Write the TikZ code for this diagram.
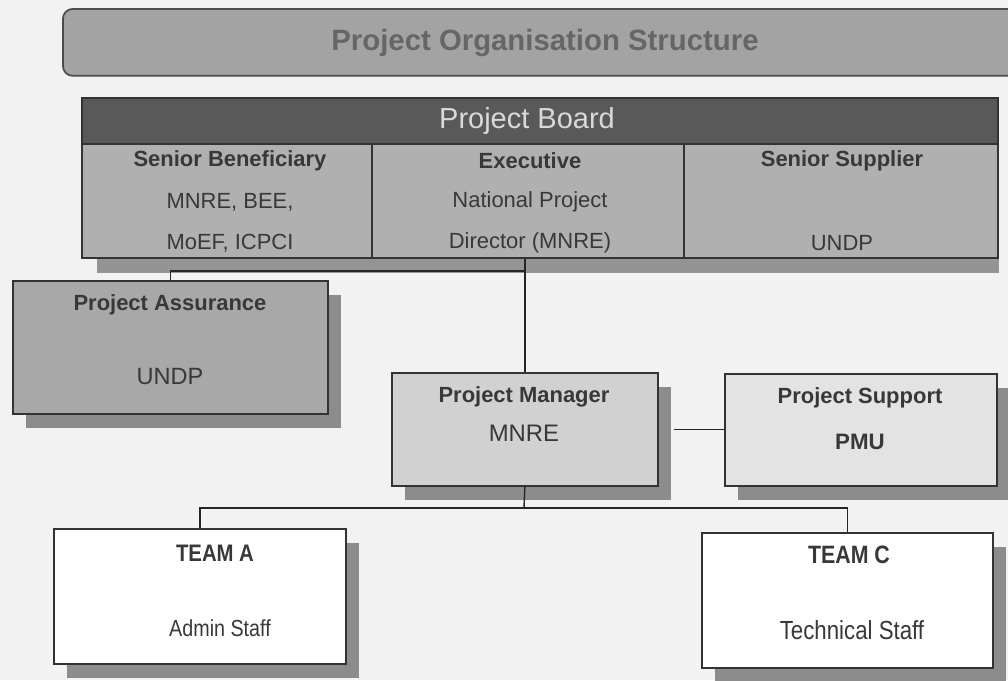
\documentclass[tikz,border=0pt]{standalone}
\usepackage{fontspec}
\setmainfont{Liberation Sans}
\newfontfamily\narrowsf{Liberation Sans}[FakeStretch=0.85]
\usetikzlibrary{shadows}

\begin{document}
\begin{tikzpicture}[
  x=0.02cm, y=-0.02cm,
  unit/.style={rectangle, draw=black!80, line width=1pt, inner sep=0pt, anchor=north west},
  cell/.style={unit, fill=black!31},
  card/.style={unit, drop shadow={shadow xshift=0.26cm, shadow yshift=-0.28cm, fill=black!45, opacity=1}},
  head/.style={font=\bfseries\fontsize{12.5}{14}\selectfont, text=black!78},
  sub/.style={font=\fontsize{12.5}{14}\selectfont, text=black!78},
  team/.style={font=\narrowsf\bfseries\fontsize{#1}{16}\selectfont, text=black!78},
  staff/.style={font=\narrowsf\fontsize{#1}{16}\selectfont, text=black!78},
  link/.style={draw=black!85, line width=0.8pt}
]
\useasboundingbox[fill=black!5] (0,0) rectangle (1008,680);

% Title banner
\node[unit, rounded corners=0.2cm, fill=black!36, draw=black!70, minimum width=19.6cm, minimum height=1.34cm] (ttl) at (62,8) {};
\node[font=\bfseries\fontsize{16.7}{18}\selectfont, text=black!60] (ttl_t) at (545,43) {Project Organisation Structure};

% Project board
\node[unit, fill=black!65, minimum width=18.32cm, minimum height=0.92cm] (brd) at (81,97) {};
\node[font=\fontsize{16.5}{18}\selectfont, text=black!15] (brd_t) at (527,121) {Project Board};

\node[cell, minimum width=5.8cm, minimum height=2.28cm] (sb) at (81,143) {};
\node[cell, minimum width=6.24cm, minimum height=2.28cm] (ex) at (371,143) {};
\node[cell, minimum width=6.28cm, minimum height=2.28cm] (ss) at (683,143) {};
\fill[black!42] ([xshift=0.32cm]sb.south west) rectangle ([yshift=-0.28cm]ss.south east);

\node[head] (sb_t) at (230,161) {Senior Beneficiary};
\node[sub]  (sb_a) at (230,202) {MNRE, BEE,};
\node[sub]  (sb_b) at (230,243) {MoEF, ICPCI};
\node[head] (ex_t) at (530,161) {Executive};
\node[sub]  (ex_a) at (530,202) {National Project};
\node[sub]  (ex_b) at (530,243) {Director (MNRE)};
\node[head] (ss_t) at (842,161) {Senior Supplier};
\node[sub]  (ss_b) at (842,243) {UNDP};

% Assurance, manager and support
\node[card, fill=black!34, minimum width=6.3cm, minimum height=2.66cm] (pa) at (12,280) {};
\node[head] (pa_t) at (170,305) {Project Assurance};
\node[sub, font=\fontsize{13.4}{15}\selectfont] (pa_s) at (170,377) {UNDP};

\node[card, fill=black!18, minimum width=5.32cm, minimum height=2.26cm] (pm) at (391,372) {};
\node[head] (pm_t) at (524,397) {Project Manager};
\node[sub, font=\fontsize{13.6}{15}\selectfont] (pm_s) at (524,433) {MNRE};

\node[card, fill=black!11, minimum width=5.44cm, minimum height=2.24cm] (ps) at (724,373) {};
\node[head] (ps_t) at (860,398) {Project Support};
\node[head, font=\bfseries\fontsize{12.7}{14}\selectfont] (ps_s) at (860,442) {PMU};

% Teams
\node[card, fill=white, minimum width=5.84cm, minimum height=2.7cm] (ta) at (53,528) {};
\node[team=13.6] (ta_t) at (215,553) {TEAM A};
\node[staff=13.2] (ta_s) at (220,628) {Admin Staff};

\node[card, fill=white, minimum width=5.82cm, minimum height=2.7cm] (tc) at (701,532) {};
\node[team=14.3] (tc_t) at (849,555) {TEAM C};
\node[staff=14.9] (tc_s) at (852,630) {Technical Staff};

% Connectors
\coordinate (bbus) at (524,271);
\coordinate (tbus) at (524,508);
\draw[link] (pm.north |- ex.south) -- (pm.north);
\draw[link] (pa.north) |- (bbus);
\draw[link] ([xshift=0.3cm]pm.east) -- (pm.east -| ps.west);
\draw[link] (pm.south) -- (tbus);
\draw[link] (ta.north) |- (tbus) -| (tc.north);

\end{tikzpicture}
\end{document}
